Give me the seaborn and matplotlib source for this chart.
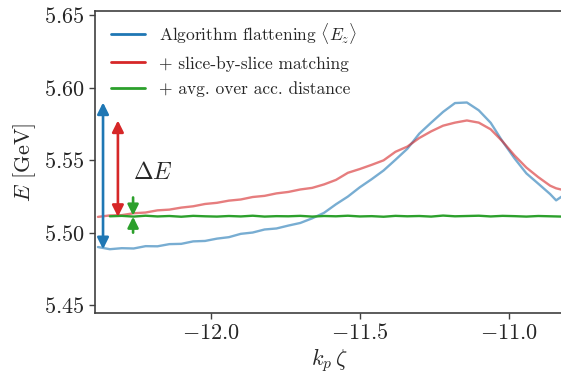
import matplotlib
matplotlib.use("Agg")
import matplotlib.pyplot as plt
import seaborn as sns
from matplotlib.lines import Line2D

# data (k_p zeta, energy in GeV)
zeta = [-12.38, -12.34, -12.30, -12.26, -12.22, -12.18, -12.14, -12.10, -12.06, -12.02,
        -11.98, -11.94, -11.90, -11.86, -11.82, -11.78, -11.74, -11.70, -11.66, -11.62,
        -11.58, -11.54, -11.50, -11.46, -11.42, -11.38, -11.34, -11.30, -11.26, -11.22,
        -11.18, -11.14, -11.10, -11.06, -11.02, -10.98, -10.94, -10.90, -10.86, -10.84,
        -10.82]

e_flat = [5.4900, 5.4885, 5.4892, 5.4890, 5.4906, 5.4905, 5.4920, 5.4922, 5.4939, 5.4942,
          5.4958, 5.4968, 5.4991, 5.5000, 5.5021, 5.5028, 5.5048, 5.5066, 5.5098, 5.5136,
          5.5195, 5.5248, 5.5312, 5.5368, 5.5428, 5.5502, 5.5578, 5.5682, 5.5758, 5.5832,
          5.5893, 5.5897, 5.5843, 5.5757, 5.5628, 5.5512, 5.5408, 5.5337, 5.5265, 5.5222,
          5.5250]

e_slice = [5.5108, 5.5118, 5.5120, 5.5133, 5.5138, 5.5153, 5.5158, 5.5172, 5.5181, 5.5197,
           5.5205, 5.5220, 5.5228, 5.5245, 5.5253, 5.5270, 5.5280, 5.5297, 5.5308, 5.5332,
           5.5363, 5.5412, 5.5438, 5.5467, 5.5498, 5.5557, 5.5593, 5.5652, 5.5698, 5.5737,
           5.5758, 5.5773, 5.5758, 5.5712, 5.5628, 5.5532, 5.5448, 5.5382, 5.5323, 5.5305,
           5.5295]

zeta_avg = zeta[1:]
e_avg = [5.5112, 5.5115, 5.5110, 5.5116, 5.5111, 5.5114, 5.5109, 5.5115, 5.5112, 5.5110,
         5.5114, 5.5111, 5.5116, 5.5110, 5.5113, 5.5112, 5.5115, 5.5110, 5.5114, 5.5112,
         5.5116, 5.5111, 5.5113, 5.5109, 5.5115, 5.5112, 5.5114, 5.5110, 5.5117, 5.5112,
         5.5114, 5.5116, 5.5111, 5.5115, 5.5113, 5.5110, 5.5114, 5.5112, 5.5111, 5.5110]

labels = [r"Algorithm flattening $\langle E_z\rangle$",
          "+ slice-by-slice matching",
          "+ avg. over acc. distance"]
colors = ["#1f77b4", "#d62728", "#2ca02c"]

sns.set_style("ticks")
plt.rcParams["font.family"] = "serif"
plt.rcParams["font.serif"] = ["cmr10"]
plt.rcParams["mathtext.fontset"] = "cm"
plt.rcParams["axes.formatter.use_mathtext"] = True
plt.rcParams["axes.unicode_minus"] = True

fig = plt.figure(figsize=(5.61, 3.75), dpi=100)
ax = fig.add_axes([95 / 561, 62 / 375, 468 / 561, 302 / 375])

sns.lineplot(x=zeta, y=e_flat, color=colors[0], alpha=0.6, lw=1.7, ax=ax)
sns.lineplot(x=zeta, y=e_slice, color=colors[1], alpha=0.6, lw=1.7, ax=ax)
sns.lineplot(x=zeta_avg, y=e_avg, color=colors[2], lw=1.7, ax=ax)

# Delta E arrows: spread of each series
def darrow(x, lo, hi, c, ms):
    ax.annotate("", xy=(x, hi), xytext=(x, lo),
                arrowprops=dict(arrowstyle="<|-|>", color=c, lw=1.9,
                                mutation_scale=ms, shrinkA=0, shrinkB=0))

darrow(-12.363, min(e_flat), max(e_flat), colors[0], 17)
darrow(-12.313, min(e_slice), max(e_slice), colors[1], 17)
for tip, tail in [(max(e_avg), max(e_avg) + 0.0125), (min(e_avg), min(e_avg) - 0.011)]:
    ax.annotate("", xy=(-12.262, tip), xytext=(-12.262, tail),
                arrowprops=dict(arrowstyle="-|>", color=colors[2], lw=1.9,
                                mutation_scale=16, shrinkA=0, shrinkB=0))
ax.text(-12.262, 5.541, r"$\Delta E$", fontsize=17, va="center", ha="left")

ax.set_xlim(-12.39, -12.39 + 468 / 297.5)
ax.set_ylim(5.4445, 5.6528)
ax.set_xticks([-12.0, -11.5, -11.0])
ax.set_yticks([5.45, 5.50, 5.55, 5.60, 5.65])
ax.set_xlabel(r"$k_p\,\zeta$", fontsize=16, labelpad=2)
ax.set_ylabel(r"$E$ [GeV]", fontsize=16, labelpad=4)
ax.tick_params(labelsize=16, length=4, width=1, color=".25")
for s in ax.spines.values():
    s.set_color(".25")
    s.set_linewidth(1.2)

handles = [Line2D([], [], color=c, lw=2) for c in colors]
ax.legend(handles, labels, loc="upper left", bbox_to_anchor=(0.0, 1.018),
          frameon=False, fontsize=12.5, handlelength=2.0, borderaxespad=0.5,
          labelspacing=0.55)

fig.savefig("out.png", dpi=100)
